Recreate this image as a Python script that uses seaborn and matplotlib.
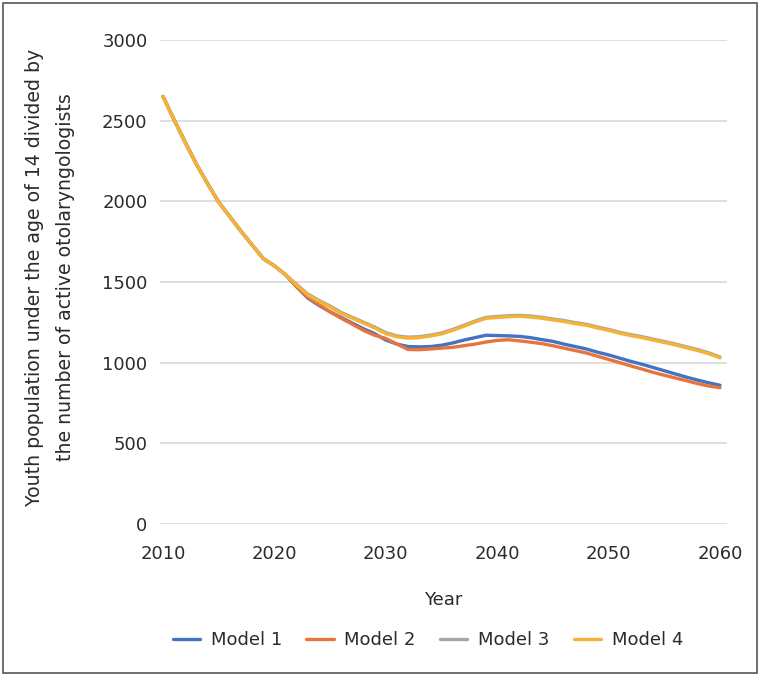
import numpy as np
import pandas as pd
import matplotlib
matplotlib.use("Agg")
import matplotlib.pyplot as plt
import seaborn as sns
from matplotlib.patches import Rectangle

years = list(range(2010, 2061))

common = [2650, 2505, 2365, 2230, 2110, 1995, 1905, 1815, 1730, 1645, 1600, 1545]

model1 = common + [1470, 1400, 1355, 1315, 1280, 1245, 1210, 1180, 1140, 1115,
                   1100, 1098, 1100, 1108, 1122, 1140, 1155, 1170, 1168, 1166,
                   1163, 1155, 1143, 1132, 1115, 1100, 1085, 1065, 1048, 1028,
                   1008, 990, 970, 950, 930, 910, 892, 875, 860]
model2 = common + [1470, 1405, 1360, 1315, 1275, 1238, 1200, 1170, 1150, 1115,
                   1082, 1080, 1085, 1090, 1095, 1105, 1115, 1128, 1138, 1142,
                   1135, 1127, 1118, 1105, 1090, 1075, 1060, 1040, 1020, 1000,
                   980, 960, 940, 922, 905, 888, 870, 855, 845]
model3 = common + [1485, 1425, 1386, 1351, 1311, 1281, 1251, 1221, 1186, 1166,
                   1158, 1161, 1171, 1184, 1206, 1231, 1258, 1281, 1286, 1291,
                   1293, 1289, 1281, 1271, 1261, 1248, 1238, 1221, 1206, 1188,
                   1174, 1161, 1146, 1131, 1116, 1098, 1081, 1061, 1035]
model4 = common + [1480, 1420, 1380, 1345, 1305, 1275, 1245, 1215, 1180, 1160,
                   1152, 1155, 1165, 1178, 1200, 1225, 1252, 1275, 1280, 1285,
                   1287, 1283, 1275, 1265, 1255, 1242, 1232, 1215, 1200, 1182,
                   1168, 1155, 1140, 1125, 1110, 1092, 1075, 1055, 1030]

series_names = ["Model 1", "Model 2", "Model 3", "Model 4"]
colors = ["#4472C4", "#E8743B", "#A5A5A5", "#F5B335"]
y_ticks = [0, 500, 1000, 1500, 2000, 2500, 3000]
x_ticks = [2010, 2020, 2030, 2040, 2050, 2060]

df = pd.DataFrame({
    "Year": years * 4,
    "Value": model1 + model2 + model3 + model4,
    "Model": sum([[n] * len(years) for n in series_names], []),
})

sns.set_theme(style="white")
plt.rcParams["font.family"] = ["DejaVu Sans"]
text_color = "#2b2b2b"
fs = 13

fig = plt.figure(figsize=(7.62, 6.76), dpi=100)
ax = fig.add_axes([160 / 762, 1 - 524 / 676, (727 - 160) / 762, (524 - 40) / 676])

sns.lineplot(data=df, x="Year", y="Value", hue="Model", palette=colors,
             hue_order=series_names, linewidth=2.4, ax=ax, legend=False)

ax.set_xlim(2009.73, 2060.63)
ax.set_ylim(0, 3000)
ax.set_yticks(y_ticks)
ax.set_xticks(x_ticks)
ax.set_yticklabels([str(v) for v in y_ticks])
ax.set_xticklabels([str(v) for v in x_ticks])
ax.yaxis.grid(True, color="#D9D9D9", linewidth=1.2)
ax.xaxis.grid(False)
for s in ax.spines.values():
    s.set_visible(False)
ax.tick_params(axis="both", length=0, labelsize=fs, colors=text_color)
ax.tick_params(axis="y", pad=9)
ax.tick_params(axis="x", pad=15)

ax.set_xlabel("Year", fontsize=fs, color=text_color, labelpad=20)
ax.set_ylabel("")
fig.text(50 / 762, 1 - 277 / 676,
         "Youth population under the age of 14 divided by\nthe number of active otolaryngologists",
         rotation=90, ha="center", va="center", multialignment="center",
         fontsize=13.6, color=text_color, linespacing=1.8)

handles = [plt.Line2D([0], [0], color=c, linewidth=2.4) for c in colors]
fig.legend(handles, series_names, loc="center", bbox_to_anchor=(428 / 762, 1 - 640 / 676),
           ncol=4, frameon=False, fontsize=fs, handlelength=1.5, columnspacing=1.35,
           handletextpad=0.6, labelcolor=text_color)

fig.patches.append(Rectangle((3 / 762, 3 / 676), 754 / 762, 670 / 676, transform=fig.transFigure,
                             fill=False, edgecolor="#555555", linewidth=1.2))

fig.savefig("out.png", dpi=100, facecolor="white")
